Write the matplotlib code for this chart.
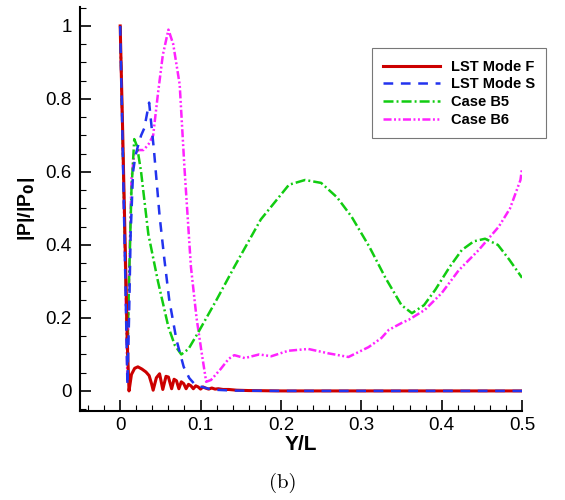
import numpy as np
import matplotlib
matplotlib.use("Agg")
import matplotlib.pyplot as plt
from matplotlib.ticker import MultipleLocator

# values
red_x = [0.0, 0.003, 0.006, 0.009, 0.011, 0.014, 0.018, 0.022, 0.027, 0.032, 0.036,
         0.039, 0.041, 0.045, 0.049, 0.053, 0.057, 0.060, 0.064, 0.067, 0.070,
         0.073, 0.076, 0.079, 0.082, 0.085, 0.088, 0.091, 0.094, 0.097, 0.100,
         0.103, 0.106, 0.110, 0.114, 0.118, 0.122, 0.128, 0.135, 0.145, 0.16,
         0.2, 0.3, 0.4, 0.5]
red_y = [1.0, 0.72, 0.42, 0.12, 0.0, 0.045, 0.062, 0.066, 0.06, 0.052, 0.042,
         0.02, 0.002, 0.036, 0.047, 0.004, 0.04, 0.038, 0.006, 0.032, 0.028,
         0.006, 0.025, 0.02, 0.006, 0.018, 0.014, 0.006, 0.014, 0.011, 0.005,
         0.011, 0.008, 0.005, 0.008, 0.005, 0.006, 0.004, 0.004, 0.002, 0.001,
         0.0, 0.0, 0.0, 0.0]

blue_x = [0.0, 0.003, 0.006, 0.009, 0.011, 0.013, 0.016, 0.019, 0.022, 0.026,
          0.030, 0.036, 0.042, 0.049, 0.055, 0.061, 0.070, 0.079, 0.086, 0.092,
          0.10, 0.11, 0.12, 0.14, 0.2, 0.3, 0.4, 0.5]
blue_y = [1.0, 0.68, 0.35, 0.016, 0.2, 0.43, 0.6, 0.645, 0.67, 0.7,
          0.72, 0.79, 0.66, 0.48, 0.36, 0.25, 0.14, 0.066, 0.035, 0.02,
          0.012, 0.006, 0.003, 0.001, 0.0, 0.0, 0.0, 0.0]

green_x = [0.0, 0.003, 0.006, 0.009, 0.011, 0.014, 0.0175, 0.021, 0.026, 0.035,
           0.047, 0.06, 0.068, 0.076, 0.085, 0.097, 0.12, 0.142, 0.175, 0.21,
           0.23, 0.25, 0.27, 0.288, 0.31, 0.33, 0.35, 0.363, 0.378, 0.392,
           0.41, 0.425, 0.44, 0.454, 0.47, 0.484, 0.5]
green_y = [1.0, 0.7, 0.4, 0.1, 0.3, 0.55, 0.69, 0.67, 0.6, 0.43,
           0.30, 0.175, 0.125, 0.1, 0.115, 0.16, 0.25, 0.34, 0.47, 0.565,
           0.578, 0.57, 0.53, 0.477, 0.395, 0.31, 0.235, 0.213, 0.235, 0.277,
           0.34, 0.386, 0.41, 0.417, 0.4, 0.36, 0.31]

mag_x = [0.0, 0.003, 0.006, 0.009, 0.011, 0.014, 0.0175, 0.023, 0.029, 0.035,
         0.041, 0.047, 0.053, 0.06, 0.066, 0.074, 0.08, 0.088, 0.095, 0.101,
         0.107, 0.113, 0.125, 0.135, 0.142, 0.155, 0.173, 0.188, 0.209, 0.234,
         0.259, 0.284, 0.309, 0.325, 0.334, 0.35, 0.359, 0.379, 0.4, 0.421,
         0.446, 0.471, 0.485, 0.498, 0.5]
mag_y = [1.0, 0.68, 0.36, 0.03, 0.3, 0.58, 0.65, 0.66, 0.66, 0.675,
         0.7, 0.815, 0.92, 0.99, 0.95, 0.84, 0.61, 0.34, 0.2, 0.11,
         0.025, 0.03, 0.06, 0.088, 0.098, 0.09, 0.1, 0.095, 0.11, 0.115,
         0.103, 0.093, 0.12, 0.145, 0.167, 0.186, 0.195, 0.222, 0.268, 0.33,
         0.386, 0.45, 0.5, 0.578, 0.61]

labels = ["LST Mode F", "LST Mode S", "Case B5", "Case B6"]

plt.rcParams["font.family"] = ["Liberation Sans", "DejaVu Sans"]
plt.rcParams["lines.scale_dashes"] = False

fig = plt.figure(figsize=(5.65, 5.0), dpi=100)
ax = fig.add_axes([0.1416, 0.178, 0.7824, 0.808])

ax.plot(mag_x, mag_y, color="#ff22ff", lw=1.8,
        dashes=(5.8, 1.8, 1.4, 1.8, 1.4, 1.8), label=labels[3], zorder=2)
ax.plot(green_x, green_y, color="#11cc11", lw=1.8, dashes=(7.2, 2.2, 1.4, 2.2),
        label=labels[2], zorder=3)
ax.plot(red_x, red_y, color="#cc0000", lw=2.2, label=labels[0], zorder=4)
ax.plot(blue_x, blue_y, color="#2233ee", lw=1.8, dashes=(7, 5.5), label=labels[1], zorder=5)

ax.set_xlim(-0.05, 0.5)
ax.set_ylim(-0.055, 1.052)
ax.xaxis.set_minor_locator(MultipleLocator(0.02))
ax.yaxis.set_minor_locator(MultipleLocator(0.05))
ax.set_xticks([0, 0.1, 0.2, 0.3, 0.4, 0.5])
ax.set_xticklabels(["0", "0.1", "0.2", "0.3", "0.4", "0.5"])
ax.set_yticks([0, 0.2, 0.4, 0.6, 0.8, 1.0])
ax.set_yticklabels(["0", "0.2", "0.4", "0.6", "0.8", "1"])

for s in ["top", "right"]:
    ax.spines[s].set_visible(False)
for s in ["left", "bottom"]:
    ax.spines[s].set_linewidth(1.5)

ax.tick_params(which="major", direction="in", length=8, width=1.2, labelsize=13.5)
ax.tick_params(which="minor", direction="in", length=4, width=0.8)
ax.tick_params(axis="x", which="major", pad=4)
ax.tick_params(axis="y", which="major", pad=6)

ax.set_xlabel("Y/L", fontsize=15, fontweight="bold", labelpad=1)
ax.set_ylabel(r"|P|/|P$_\mathbf{0}$|", fontsize=14, fontweight="bold", labelpad=6)

handles, labs = ax.get_legend_handles_labels()
order = [labs.index(l) for l in labels]
leg = fig.legend([handles[i] for i in order], labels, loc="upper left",
                 bbox_to_anchor=(0.658, 0.904), prop={"weight": "bold", "size": 10.5},
                 frameon=True, fancybox=False, handlelength=3.9, borderpad=0.8,
                 labelspacing=0.25, handletextpad=0.7, borderaxespad=0)
leg.get_frame().set_edgecolor("#555555")
leg.get_frame().set_linewidth(0.8)

fig.text(0.5, 0.025, "(b)", fontsize=15, family=["cmr10", "DejaVu Serif"], ha="center")

fig.savefig("out.png", dpi=100)
